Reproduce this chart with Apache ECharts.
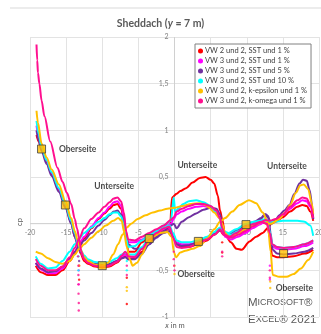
<!DOCTYPE html>
<html><head><meta charset="utf-8">
<script src="https://cdn.jsdelivr.net/npm/echarts@6/dist/echarts.min.js"></script>
<style>html,body{margin:0;padding:0;background:#fff}#c{width:321px;height:334px}</style>
</head><body><div id="c"></div><script>
const seriesNames = ['VW 2 und 2, SST und 1 %','VW 3 und 2, SST und 1 %','VW 3 und 2, SST und 5 %','VW 3 und 2, SST und 10 %','VW 3 und 2, k-epsilon und 1 %','VW 3 und 2, k-omega und 1 %'];
const seriesColors = ['#ff0000','#ff00ff','#7030a0','#00ffff','#ffc000','#ff0f8f'];
const xTicks = [-20,-15,-10,-5,0,5,10,15,20];
const yTicks = [-1,-0.5,0,0.5,1,1.5,2];

const redA = [[-19.1,0.95],[-18.8,0.88],[-18.4,0.8],[-17.7,0.66],[-17.0,0.53],[-16.0,0.36],[-15.1,0.19],[-14.3,0.01],[-13.8,-0.14],[-13.4,-0.22],[-13.0,-0.32],[-12.5,-0.4],[-12.0,-0.43],[-11.0,-0.46],[-10.0,-0.47],[-9.0,-0.46],[-8.0,-0.42],[-7.3,-0.37],[-6.8,-0.35],[-6.4,-0.38],[-5.5,-0.37],[-4.5,-0.3],[-3.5,-0.2],[-2.5,-0.12],[-1.5,-0.07],[-0.7,-0.06],[-0.2,-0.13],[0.3,-0.22],[1.0,-0.25],[2.0,-0.25],[3.3,-0.22],[4.5,-0.18],[5.5,-0.12],[6.3,-0.07],[6.8,-0.12],[7.5,-0.15],[8.5,-0.1],[9.9,-0.04],[11.0,0.0],[12.0,0.02],[12.8,0.0],[13.2,-0.15],[13.5,-0.34],[14.2,-0.36],[15.1,-0.36],[16.5,-0.35],[18.0,-0.32],[19.2,-0.28]];
const redB = [[-19.2,-0.45],[-18.5,-0.52],[-17.5,-0.55],[-16.5,-0.55],[-15.5,-0.5],[-14.5,-0.4],[-13.8,-0.32],[-13.2,-0.25],[-12.5,-0.16],[-11.5,-0.05],[-10.5,0.05],[-9.7,0.11],[-9.0,0.16],[-8.4,0.2],[-7.9,0.21],[-7.4,0.16],[-7.0,0.05],[-6.7,-0.12],[-6.4,-0.3],[-5.5,-0.3],[-4.5,-0.2],[-3.5,-0.14],[-2.5,-0.09],[-1.5,-0.05],[-0.6,-0.01],[-0.35,0.28],[0.3,0.32],[0.8,0.35],[1.6,0.38],[2.5,0.44],[3.5,0.49],[4.3,0.5],[5.0,0.47],[5.5,0.43],[6.0,0.3],[6.3,0.14],[6.6,0.05],[7.0,-0.12],[7.8,-0.2],[8.6,-0.27],[9.3,-0.28],[10.4,-0.19],[11.3,-0.14],[12.2,-0.1],[13.0,-0.04],[13.4,0.0],[14.0,0.02],[15.0,0.07],[16.0,0.13],[17.0,0.18],[17.7,0.2],[18.3,0.19],[18.8,0.13],[19.2,0.03]];

const magA = [[-19.1,1.05],[-18.8,0.93],[-18.4,0.81],[-17.7,0.67],[-17.0,0.54],[-16.0,0.37],[-15.1,0.2],[-14.3,0.02],[-13.8,-0.13],[-13.4,-0.22],[-13.0,-0.3],[-12.5,-0.37],[-12.0,-0.41],[-11.0,-0.44],[-10.0,-0.45],[-9.0,-0.44],[-8.0,-0.4],[-7.3,-0.35],[-6.8,-0.33],[-6.4,-0.36],[-5.5,-0.35],[-4.5,-0.26],[-3.5,-0.16],[-2.5,-0.1],[-1.5,-0.06],[-0.7,-0.05],[-0.2,-0.12],[0.3,-0.2],[1.0,-0.22],[2.0,-0.22],[3.3,-0.2],[4.5,-0.16],[5.5,-0.1],[6.3,-0.05],[6.8,-0.1],[7.5,-0.13],[8.5,-0.08],[9.9,-0.02],[11.0,0.01],[12.0,0.03],[12.8,0.02],[13.2,-0.1],[13.5,-0.24],[14.2,-0.27],[15.1,-0.28],[16.5,-0.27],[18.0,-0.24],[19.2,-0.2]];
const magB = [[-19.2,-0.42],[-18.5,-0.49],[-17.5,-0.53],[-16.5,-0.53],[-15.5,-0.48],[-14.5,-0.38],[-13.8,-0.3],[-13.2,-0.22],[-12.5,-0.14],[-11.5,-0.03],[-10.5,0.06],[-9.7,0.12],[-9.0,0.18],[-8.4,0.23],[-7.9,0.24],[-7.4,0.19],[-7.0,0.08],[-6.7,-0.1],[-6.4,-0.2],[-5.5,-0.2],[-4.5,-0.17],[-3.5,-0.13],[-2.5,-0.09],[-1.5,-0.04],[-0.5,0.0],[-0.1,0.05],[0.3,0.1],[1.0,0.13],[2.0,0.16],[3.0,0.18],[4.0,0.19],[5.0,0.17],[5.8,0.12],[6.3,0.05],[6.6,-0.05],[7.0,-0.14],[7.8,-0.17],[8.8,-0.14],[9.8,-0.1],[10.8,-0.05],[11.8,-0.01],[12.6,0.03],[13.2,0.02],[14.0,0.04],[15.0,0.09],[16.0,0.16],[17.0,0.22],[17.7,0.25],[18.3,0.24],[18.8,0.18],[19.2,0.05]];

const purA = [[-19.1,1.0],[-18.8,0.89],[-18.4,0.78],[-17.7,0.64],[-17.0,0.51],[-16.0,0.34],[-15.1,0.17],[-14.3,0.0],[-13.8,-0.14],[-13.4,-0.22],[-13.0,-0.3],[-12.5,-0.36],[-12.0,-0.4],[-11.0,-0.43],[-10.0,-0.44],[-9.0,-0.43],[-8.0,-0.4],[-7.3,-0.37],[-6.8,-0.36],[-6.4,-0.38],[-5.5,-0.38],[-4.5,-0.32],[-3.5,-0.22],[-2.5,-0.14],[-1.5,-0.1],[-0.7,-0.08],[-0.2,-0.14],[0.3,-0.22],[1.0,-0.24],[2.0,-0.23],[3.3,-0.2],[4.5,-0.16],[5.5,-0.11],[6.3,-0.07],[6.8,-0.1],[7.5,-0.12],[8.5,-0.07],[9.9,-0.02],[11.0,0.02],[12.0,0.06],[12.6,0.1],[13.0,0.08],[13.3,-0.1],[13.6,-0.28],[14.2,-0.32],[15.1,-0.33],[16.5,-0.32],[18.0,-0.3],[19.2,-0.26]];
const purB = [[-19.2,-0.42],[-18.5,-0.48],[-17.5,-0.52],[-16.5,-0.51],[-15.5,-0.46],[-14.5,-0.37],[-13.8,-0.3],[-13.2,-0.24],[-12.5,-0.18],[-11.5,-0.1],[-10.5,-0.02],[-9.7,0.04],[-9.0,0.09],[-8.4,0.13],[-7.9,0.14],[-7.4,0.1],[-7.0,0.0],[-6.7,-0.12],[-6.4,-0.22],[-5.5,-0.27],[-4.5,-0.27],[-3.5,-0.22],[-2.5,-0.15],[-1.5,-0.08],[-0.5,-0.02],[-0.1,0.0],[0.3,-0.05],[1.0,0.02],[2.0,0.07],[3.0,0.11],[4.0,0.15],[5.0,0.17],[5.8,0.16],[6.3,0.1],[6.7,-0.05],[7.0,-0.1],[7.8,-0.12],[8.8,-0.1],[9.8,-0.06],[10.8,-0.02],[11.8,0.04],[12.5,0.1],[13.0,0.06],[13.4,0.0],[14.0,0.04],[14.5,0.09],[15.2,0.14],[15.9,0.2],[16.6,0.32],[17.3,0.43],[17.8,0.47],[18.3,0.46],[18.7,0.36],[19.1,0.17],[19.2,0.05]];

const cyaA = [[-19.1,1.1],[-18.8,0.96],[-18.4,0.82],[-17.7,0.68],[-17.0,0.55],[-16.0,0.38],[-15.1,0.21],[-14.3,0.03],[-13.8,-0.1],[-13.4,-0.2],[-13.0,-0.28],[-12.5,-0.34],[-12.0,-0.38],[-11.0,-0.41],[-10.0,-0.42],[-9.0,-0.41],[-8.0,-0.37],[-7.3,-0.33],[-6.8,-0.31],[-6.4,-0.33],[-5.5,-0.33],[-4.5,-0.25],[-3.5,-0.15],[-2.5,-0.08],[-1.5,-0.04],[-0.7,-0.02],[-0.2,-0.1],[0.3,-0.18],[1.0,-0.2],[2.0,-0.2],[3.3,-0.18],[4.5,-0.14],[5.5,-0.09],[6.3,-0.04],[6.8,-0.08],[7.5,-0.1],[8.5,-0.06],[9.9,0.0],[11.0,0.02],[12.0,0.03],[12.8,0.02],[13.2,-0.08],[13.5,-0.22],[14.2,-0.25],[15.1,-0.26],[16.5,-0.25],[18.0,-0.22],[19.2,-0.18]];
const cyaB = [[-19.2,-0.35],[-18.5,-0.43],[-17.5,-0.48],[-16.5,-0.47],[-15.5,-0.4],[-14.5,-0.3],[-13.8,-0.22],[-13.2,-0.16],[-12.5,-0.1],[-11.5,-0.04],[-10.5,0.02],[-9.7,0.06],[-9.0,0.1],[-8.4,0.12],[-7.9,0.12],[-7.4,0.08],[-7.0,-0.02],[-6.7,-0.15],[-6.4,-0.25],[-5.5,-0.24],[-4.5,-0.18],[-3.5,-0.12],[-2.5,-0.07],[-1.5,-0.02],[-0.5,0.03],[-0.1,0.28],[0.1,0.12],[0.5,0.16],[1.2,0.21],[2.0,0.24],[3.0,0.25],[4.0,0.23],[5.0,0.19],[5.8,0.12],[6.3,0.05],[6.6,-0.05],[7.0,-0.1],[7.8,-0.12],[8.8,-0.08],[9.8,-0.04],[10.8,0.0],[11.8,0.03],[12.6,0.05],[13.2,0.02],[14.0,0.02],[15.0,0.03],[16.0,0.03],[17.0,0.03],[18.0,0.02],[18.8,-0.02],[19.2,-0.13]];

const oraA = [[-19.1,1.21],[-18.9,1.08],[-18.4,0.86],[-17.7,0.71],[-17.0,0.58],[-16.0,0.42],[-15.1,0.24],[-14.3,0.06],[-13.8,-0.08],[-13.4,-0.18],[-13.0,-0.28],[-12.5,-0.36],[-12.0,-0.4],[-11.0,-0.44],[-10.0,-0.45],[-9.2,-0.42],[-8.5,-0.33],[-7.8,-0.22],[-7.2,-0.12],[-6.6,-0.04],[-6.0,0.0],[-5.1,0.05],[-4.0,0.09],[-3.0,0.12],[-2.0,0.14],[-1.0,0.16],[0.0,0.17],[1.1,0.19],[2.3,0.21],[3.5,0.22],[4.3,0.2],[4.8,0.17],[5.5,0.12],[6.2,0.06],[6.6,0.0],[7.0,-0.1],[7.5,-0.14],[8.5,-0.12],[9.8,-0.06],[11.0,-0.02],[12.2,0.02],[13.0,0.0],[13.4,0.0],[14.5,0.05],[15.3,0.12],[16.0,0.2],[16.8,0.33],[17.4,0.41],[17.9,0.42],[18.5,0.37],[19.0,0.22],[19.2,0.1]];
const oraB = [[-19.2,-0.3],[-18.5,-0.32],[-17.5,-0.37],[-16.5,-0.41],[-15.5,-0.43],[-14.5,-0.4],[-13.8,-0.33],[-13.2,-0.27],[-12.5,-0.22],[-11.5,-0.15],[-10.5,-0.08],[-9.5,-0.02],[-8.5,0.03],[-7.8,0.06],[-7.3,0.03],[-7.0,-0.08],[-6.6,-0.25],[-6.2,-0.38],[-5.8,-0.45],[-5.2,-0.42],[-4.5,-0.33],[-3.8,-0.22],[-3.0,-0.14],[-2.0,-0.1],[-1.0,-0.09],[-0.4,-0.14],[-0.1,-0.3],[0.2,-0.36],[0.8,-0.31],[1.5,-0.29],[2.5,-0.27],[3.5,-0.24],[4.5,-0.16],[5.5,-0.06],[6.3,0.02],[7.0,0.06],[8.0,0.13],[9.0,0.2],[10.3,0.25],[11.3,0.22],[12.2,0.12],[12.9,0.02],[13.3,-0.3],[13.6,-0.55],[14.5,-0.57],[15.5,-0.57],[16.5,-0.54],[17.5,-0.48],[18.5,-0.39],[19.2,-0.3]];

const pinA = [[-19.1,1.92],[-19.0,1.75],[-18.9,1.62],[-18.7,1.5],[-18.4,1.32],[-18.0,1.15],[-17.2,0.88],[-16.2,0.6],[-15.5,0.45],[-14.9,0.33],[-14.3,0.21],[-13.8,0.05],[-13.5,-0.05],[-13.2,-0.15],[-12.9,-0.3],[-12.5,-0.38],[-12.0,-0.42],[-11.0,-0.45],[-10.0,-0.46],[-9.0,-0.45],[-8.0,-0.41],[-7.3,-0.34],[-6.8,-0.3],[-6.4,-0.35],[-5.5,-0.36],[-4.5,-0.27],[-3.5,-0.17],[-2.5,-0.1],[-1.5,-0.05],[-0.7,-0.03],[-0.2,-0.15],[0.3,-0.25],[1.0,-0.26],[2.0,-0.25],[3.3,-0.21],[4.5,-0.17],[5.5,-0.12],[6.3,-0.06],[6.8,-0.12],[7.5,-0.15],[8.5,-0.1],[9.9,-0.03],[11.0,0.0],[12.0,0.02],[12.8,0.0],[13.2,-0.1],[13.5,-0.22],[14.2,-0.25],[15.1,-0.26],[16.5,-0.25],[18.0,-0.22],[19.2,-0.18]];
const pinB = [[-19.2,-0.38],[-18.5,-0.45],[-17.5,-0.5],[-16.5,-0.5],[-15.5,-0.46],[-14.5,-0.36],[-13.8,-0.26],[-13.2,-0.16],[-12.5,-0.05],[-11.5,0.05],[-10.5,0.12],[-9.7,0.18],[-9.0,0.23],[-8.4,0.27],[-7.9,0.28],[-7.4,0.24],[-7.0,0.12],[-6.7,-0.08],[-6.4,-0.17],[-5.5,-0.18],[-4.5,-0.14],[-3.5,-0.1],[-2.5,-0.06],[-1.5,-0.02],[-0.5,0.04],[-0.1,0.07],[0.3,0.13],[1.0,0.16],[2.0,0.19],[3.0,0.21],[4.0,0.21],[5.0,0.19],[5.8,0.14],[6.3,0.06],[6.6,-0.05],[7.0,-0.12],[7.8,-0.15],[8.8,-0.12],[9.8,-0.08],[10.8,-0.03],[11.8,0.01],[12.6,0.04],[13.2,0.03],[14.0,0.05],[15.0,0.1],[16.0,0.18],[17.0,0.25],[17.7,0.28],[18.3,0.27],[18.8,0.2],[19.2,0.06]];

const redDots = [[-13.2,-0.45],[-13.2,-0.6],[-6.6,-0.58],[-6.6,-0.86],[6.6,-0.2],[6.6,-0.31]];
const magDots = [[-13.25,-0.5],[-13.25,-0.65],[13.2,-0.45],[13.2,-0.6]];
const purDots = [[-13.2,-0.4]];
const cyaDots = [[-13.3,-0.35],[-13.3,-0.5],[-6.6,-0.4],[-6.6,-0.5]];
const oraDots = [[-13.2,-0.45],[-6.6,-0.68],[-6.6,-0.72],[0.0,-0.45],[0.0,-0.54],[13.25,-0.62],[13.25,-0.69]];
const pinDots = [[-13.35,-0.35],[-13.3,-0.45],[-13.3,-0.55],[-13.3,-0.65],[-13.28,-0.75],[-13.25,-0.85],[-13.25,-0.93],[-6.6,-0.45],[-6.6,-0.55],[-0.1,-0.3],[-0.1,-0.38],[-0.05,-0.45],[0.0,-0.5],[6.6,-0.3],[6.6,-0.35],[13.2,-0.5],[13.2,-0.58]];

const markerPts = [[-18.4,0.8],[-15.1,0.2],[-10.0,-0.45],[-3.5,-0.16],[3.3,-0.19],[9.9,-0.01],[15.1,-0.32]];

const lineSets = [[redA,redB],[magA,magB],[purA,purB],[cyaA,cyaB],[oraA,oraB],[pinA,pinB]];
const dotSets = [redDots,magDots,purDots,cyaDots,oraDots,pinDots];

const labels = [
  {t:'Oberseite', x:-16.0, y:0.8},
  {t:'Unterseite', x:-11.1, y:0.4},
  {t:'Unterseite', x:0.4, y:0.63},
  {t:'Unterseite', x:12.8, y:0.62},
  {t:'Oberseite', x:0.4, y:-0.54},
  {t:'Oberseite', x:14.0, y:-0.69}
];

const chart = echarts.init(document.getElementById('c'), null, {renderer:'canvas'});
const series = [];
seriesNames.forEach((n,i)=>{
  lineSets[i].forEach(d=>{
    series.push({name:n, type:'line', data:d, showSymbol:false, symbol:'none', smooth:0.3, smoothMonotone:'x',
      lineStyle:{color:seriesColors[i], width:2}, itemStyle:{color:seriesColors[i]}, z:2, silent:true});
  });
  series.push({name:n, type:'scatter', data:dotSets[i], symbolSize:2.4, itemStyle:{color:seriesColors[i]}, z:2, silent:true});
});
series.push({name:'marker', type:'scatter', data:markerPts, symbol:'rect', symbolSize:8,
  itemStyle:{color:'#ffc000', borderColor:'#404040', borderWidth:1}, z:5, silent:true});
series.push({name:'labels', type:'scatter', data:labels.map(l=>[l.x,l.y]), symbolSize:0, z:6, silent:true,
  label:{show:true, position:'right', distance:0, formatter:p=>labels[p.dataIndex].t, fontFamily:'Lato', fontWeight:'bold', fontSize:8.5, color:'#1a1a1a'}});

const fmt = v => (v===0 ? '' : String(v).replace('.',','));
const baseGraphic = [
  {type:'line', shape:{x1:10,y1:8,x2:321,y2:8}, style:{stroke:'#d9d9d9', lineWidth:1}},
  {type:'text', x:20, y:222, rotation:Math.PI/2, style:{text:'cp', fontSize:7.5, fill:'#595959', fontFamily:'Lato', align:'center', verticalAlign:'middle'}},
  {type:'text', x:175, y:326, style:{text:'{i|x}{a| in m}', align:'center', verticalAlign:'middle',
    rich:{i:{fontSize:7.5, fill:'#595959', fontStyle:'italic', fontFamily:'Lato'}, a:{fontSize:7.5, fill:'#595959', fontFamily:'Lato'}}}},
  {type:'text', x:248, y:303, style:{text:'{b|M}{s|ICROSOFT}{b|®}', verticalAlign:'middle',
    rich:{b:{fontSize:11.5, fill:'#595959', fontFamily:'Liberation Sans'}, s:{fontSize:9, fill:'#595959', fontFamily:'Liberation Sans'}}}},
  {type:'text', x:248, y:320, style:{text:'{b|E}{s|XCEL}{b|® 2021}', verticalAlign:'middle',
    rich:{b:{fontSize:11.5, fill:'#595959', fontFamily:'Liberation Sans'}, s:{fontSize:9, fill:'#595959', fontFamily:'Liberation Sans'}}}}
];
chart.setOption({
  animation:false,
  backgroundColor:'#fff',
  textStyle:{fontFamily:'Lato'},
  title:{text:'{a|Sheddach (}{i|y}{a| = 7 m)}', left:'center', top:13,
    textStyle:{rich:{a:{fontSize:10.5, color:'#595959', fontFamily:'Lato'}, i:{fontSize:10.5, color:'#595959', fontStyle:'italic', fontFamily:'Lato'}}}},
  grid:{left:30, right:2, top:37, bottom:17},
  legend:{data:seriesNames, orient:'vertical', left:195, top:44, icon:'circle', itemWidth:5, itemHeight:5, itemGap:2,
    padding:[3,4,3,3], borderColor:'#808080', borderWidth:1, backgroundColor:'#fff',
    textStyle:{fontSize:7.5, color:'#404040', fontFamily:'Lato', lineHeight:8, padding:[0,0,0,-3]}},
  xAxis:{type:'value', min:-20, max:20, interval:5,
    axisLine:{show:false}, axisTick:{show:false}, axisLabel:{show:false},
    splitLine:{lineStyle:{color:'#e3e3e3', width:1}}},
  yAxis:{type:'value', min:-1, max:2, interval:0.5,
    axisLine:{show:false}, axisTick:{show:false}, axisLabel:{show:false},
    splitLine:{lineStyle:{color:'#e3e3e3', width:1}}},
  graphic:baseGraphic,
  series:series
});
// tick labels placed where the axes cross (at x = 0 / cp = 0), through the chart's own scales
const tickGraphic = [];
const p00 = chart.convertToPixel({xAxisIndex:0, yAxisIndex:0}, [0,0]);
const pMin = chart.convertToPixel({xAxisIndex:0, yAxisIndex:0}, [-20,-1]);
const pMax = chart.convertToPixel({xAxisIndex:0, yAxisIndex:0}, [20,2]);
tickGraphic.push({type:'line', shape:{x1:pMin[0],y1:p00[1],x2:pMax[0],y2:p00[1]}, style:{stroke:'#d0d0d0', lineWidth:1}, z:1});
tickGraphic.push({type:'line', shape:{x1:p00[0],y1:pMin[1],x2:p00[0],y2:pMax[1]}, style:{stroke:'#d0d0d0', lineWidth:1}, z:1});
xTicks.forEach(v=>{
  if (v===0) return;
  const p = chart.convertToPixel({xAxisIndex:0, yAxisIndex:0}, [v,0]);
  tickGraphic.push({type:'text', x:p[0], y:p[1]+9, z:1, style:{text:fmt(v), fontSize:7, fill:'#808080', fontFamily:'Lato', align:'center', verticalAlign:'middle'}});
});
yTicks.forEach(v=>{
  if (v===0) return;
  const p = chart.convertToPixel({xAxisIndex:0, yAxisIndex:0}, [0,v]);
  tickGraphic.push({type:'text', x:p[0]-6, y:p[1], z:1, style:{text:fmt(v), fontSize:7, fill:'#808080', fontFamily:'Lato', align:'right', verticalAlign:'middle'}});
});
chart.setOption({graphic: baseGraphic.concat(tickGraphic)});
</script></body></html>
